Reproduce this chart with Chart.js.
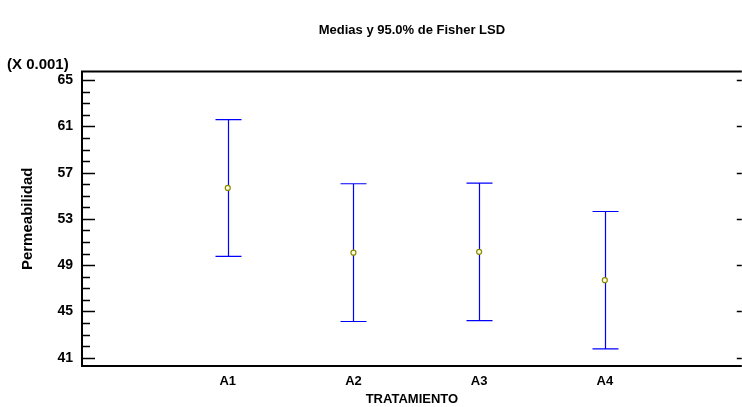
<!DOCTYPE html>
<html>
<head>
<meta charset="utf-8">
<script src="https://cdn.jsdelivr.net/npm/chart.js@4.4.0/dist/chart.umd.min.js"></script>
<style>
  html, body { margin: 0; padding: 0; background: #fff; overflow: hidden; }
  /* chart.js keeps ~5px on the right, so the canvas is a bit wider than the window */
  #wrap { width: 747px; height: 407px; }
</style>
</head>
<body>
<div id="wrap"><canvas id="chart"></canvas></div>
<script>
// categories and their positions on the x axis
const categories = ['A1', 'A2', 'A3', 'A4'];
const xPositions = [1, 2, 3, 4];

// means and 95% Fisher LSD intervals (values x 0.001)
const means = [55.68, 50.08, 50.15, 47.70];
const lower = [49.76, 44.13, 44.20, 41.76];
const upper = [61.59, 56.04, 56.09, 53.64];

// y tick labels
const yTicks = [41, 45, 49, 53, 57, 61, 65];

const FONT = 'Arial, "Liberation Sans", Helvetica, sans-serif';

// error bars under the mean markers
const errorBars = {
  id: 'errorBars',
  beforeDatasetsDraw(chart) {
    const ctx = chart.ctx;
    const x = chart.scales.x, y = chart.scales.y;
    ctx.save();
    ctx.strokeStyle = '#0000ff';
    ctx.lineWidth = 1.2;
    for (let i = 0; i < categories.length; i++) {
      const px = Math.round(x.getPixelForValue(xPositions[i])) + 0.5;
      const pTop = y.getPixelForValue(upper[i]);
      const pBot = y.getPixelForValue(lower[i]);
      ctx.beginPath();
      ctx.moveTo(px, pTop);
      ctx.lineTo(px, pBot);
      ctx.moveTo(px - 13, pTop);
      ctx.lineTo(px + 13, pTop);
      ctx.moveTo(px - 13, pBot);
      ctx.lineTo(px + 13, pBot);
      ctx.stroke();
    }
    ctx.restore();
  }
};

// frame, inward ticks, multiplier note
const frame = {
  id: 'frame',
  afterDraw(chart) {
    const ctx = chart.ctx;
    const a = chart.chartArea;
    const y = chart.scales.y;
    ctx.save();
    ctx.strokeStyle = '#000';
    ctx.lineWidth = 2;
    ctx.beginPath();
    ctx.moveTo(a.right, a.top);
    ctx.lineTo(a.left, a.top);
    ctx.lineTo(a.left, a.bottom);
    ctx.lineTo(a.right, a.bottom);
    ctx.stroke();

    ctx.lineWidth = 1.3;
    ctx.beginPath();
    for (let v = yTicks[0]; v <= yTicks[yTicks.length - 1]; v++) {
      const py = Math.round(y.getPixelForValue(v)) + 0.5;
      const major = yTicks.includes(v);
      ctx.moveTo(a.left, py);
      ctx.lineTo(a.left + (major ? 13 : 8), py);
      if (major) {
        ctx.moveTo(a.right, py);
        ctx.lineTo(a.right - 5, py);
      }
    }
    ctx.stroke();

    ctx.fillStyle = '#000';
    ctx.font = 'bold 15px ' + FONT;
    ctx.textAlign = 'left';
    ctx.textBaseline = 'alphabetic';
    ctx.fillText('(X 0.001)', 7, 69);
    ctx.restore();
  }
};

const ctx = document.getElementById('chart').getContext('2d');
const chart = new Chart(ctx, {
  type: 'scatter',
  data: {
    datasets: [{
      label: 'Medias',
      data: categories.map((c, i) => ({ x: xPositions[i], y: means[i] })),
      pointStyle: 'circle',
      pointRadius: 2.5,
      pointBorderWidth: 1.2,
      pointBorderColor: '#8a8a00',
      pointBackgroundColor: '#ffffe0'
    }]
  },
  options: {
    responsive: true,
    maintainAspectRatio: false,
    animation: false,
    layout: { padding: 0 },
    plugins: {
      legend: { display: false },
      tooltip: { enabled: false },
      title: {
        display: true,
        fullSize: false,
        text: 'Medias y 95.0% de Fisher LSD',
        color: '#000',
        font: { family: FONT, size: 13, weight: 'bold' },
        padding: { top: 23, bottom: 33 }
      }
    },
    scales: {
      x: {
        type: 'linear',
        min: -0.16,
        max: 5.09,
        afterBuildTicks(scale) {
          scale.ticks = xPositions.map(v => ({ value: v }));
        },
        afterFit(scale) {
          scale.height = 41;
          scale.paddingLeft = 0;
          scale.paddingRight = 0;
        },
        grid: { display: false, drawTicks: false },
        border: { display: false },
        ticks: {
          padding: 8,
          color: '#000',
          font: { family: FONT, size: 13, weight: 'bold' },
          callback: (v, i) => categories[i]
        },
        title: {
          display: true,
          text: 'TRATAMIENTO',
          color: '#000',
          font: { family: FONT, size: 13, weight: 'bold' },
          padding: { top: 0, bottom: 0 }
        }
      },
      y: {
        min: 40.28,
        max: 65.74,
        afterBuildTicks(scale) {
          scale.ticks = yTicks.map(v => ({ value: v }));
        },
        afterFit(scale) {
          scale.width = 82;
          scale.paddingTop = 0;
          scale.paddingBottom = 0;
        },
        grid: { display: false, drawTicks: false },
        border: { display: false },
        ticks: {
          padding: 9,
          color: '#000',
          font: { family: FONT, size: 14, weight: 'bold' }
        },
        title: {
          display: true,
          text: 'Permeabilidad',
          color: '#000',
          font: { family: FONT, size: 15, weight: 'bold' },
          padding: { top: 19, bottom: 0 }
        }
      }
    }
  },
  plugins: [errorBars, frame]
});
</script>
</body>
</html>
